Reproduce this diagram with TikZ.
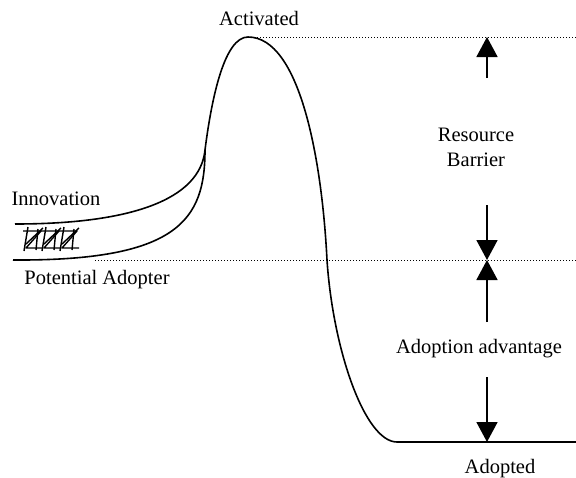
\documentclass[tikz,border=0pt]{standalone}
\usepackage{fontspec}
\setmainfont{Liberation Serif}
\usetikzlibrary{arrows.meta}

\begin{document}
\begin{tikzpicture}[x=1pt, y=-1pt, font=\fontsize{20.5}{25}\selectfont,
    curve/.style={line width=1.6pt, line join=round},
    level/.style={dotted, line width=1pt},
    gap/.style={line width=1.7pt, -{Triangle[length=20pt,width=21pt]}},
    hatch/.style={line width=1.4pt, line join=round}]
  \useasboundingbox (0,0) rectangle (576,477);

  % levels and arrow ends
  \coordinate (peak) at (248,37);
  \coordinate (join) at (205,150);
  \coordinate (bottom) at (397,442);
  \coordinate (topend) at (576,37);
  \coordinate (midstart) at (95,260);
  \coordinate (midend) at (576,260);
  \coordinate (botend) at (576,442);
  \coordinate (t) at (487,37);
  \coordinate (m) at (487,260);
  \coordinate (b) at (487,442);
  \coordinate (t1) at (487,78);
  \coordinate (m1) at (487,205);
  \coordinate (m2) at (487,322);
  \coordinate (b1) at (487,377);

  % labels
  \node[anchor=base] (act) at (259,25) {Activated};
  \node[anchor=base] (inno) at (56,205) {Innovation};
  \node[anchor=base] (potential) at (97,284) {Potential Adopter};
  \node[align=center] (barrier) at (476,147.5) {Resource\\Barrier};
  \node[anchor=base] (advantage) at (479,353) {Adoption advantage};
  \node[anchor=base] (adopted) at (500,473) {Adopted};

  % dotted levels
  \draw[level] (peak) -- (topend);
  \draw[level] (midstart) -- (midend);

  % two starting curves into the hump
  \draw[curve] (15,224) .. controls (130,224) and (200,200) .. (join);
  \draw[curve] (13,260) .. controls (178,261) and (205,220) .. (join);
  \draw[curve] (join) .. controls (212,95) and (225,37) .. (peak)
    .. controls (300,37) and (322,160) .. (327,260)
    .. controls (333,350) and (365,442) .. (bottom) -- (botend);

  % scribbled complex
  \foreach \i in {0,1,2} {
    \begin{scope}[shift={(18*\i,0)}]
      \draw[hatch] (28,227) -- (24,251);
      \draw[hatch] (38,229) -- (36,250);
      \draw[hatch] (23,231) -- (41,231) -- (26,248) -- (43,248);
      \draw[hatch] (26,244) -- (43,228);
    \end{scope}
  }

  % gaps
  \draw[gap] (t1) -- (t);
  \draw[gap] (m1) -- (m);
  \draw[gap] (m2) -- (m);
  \draw[gap] (b1) -- (b);
\end{tikzpicture}
\end{document}
